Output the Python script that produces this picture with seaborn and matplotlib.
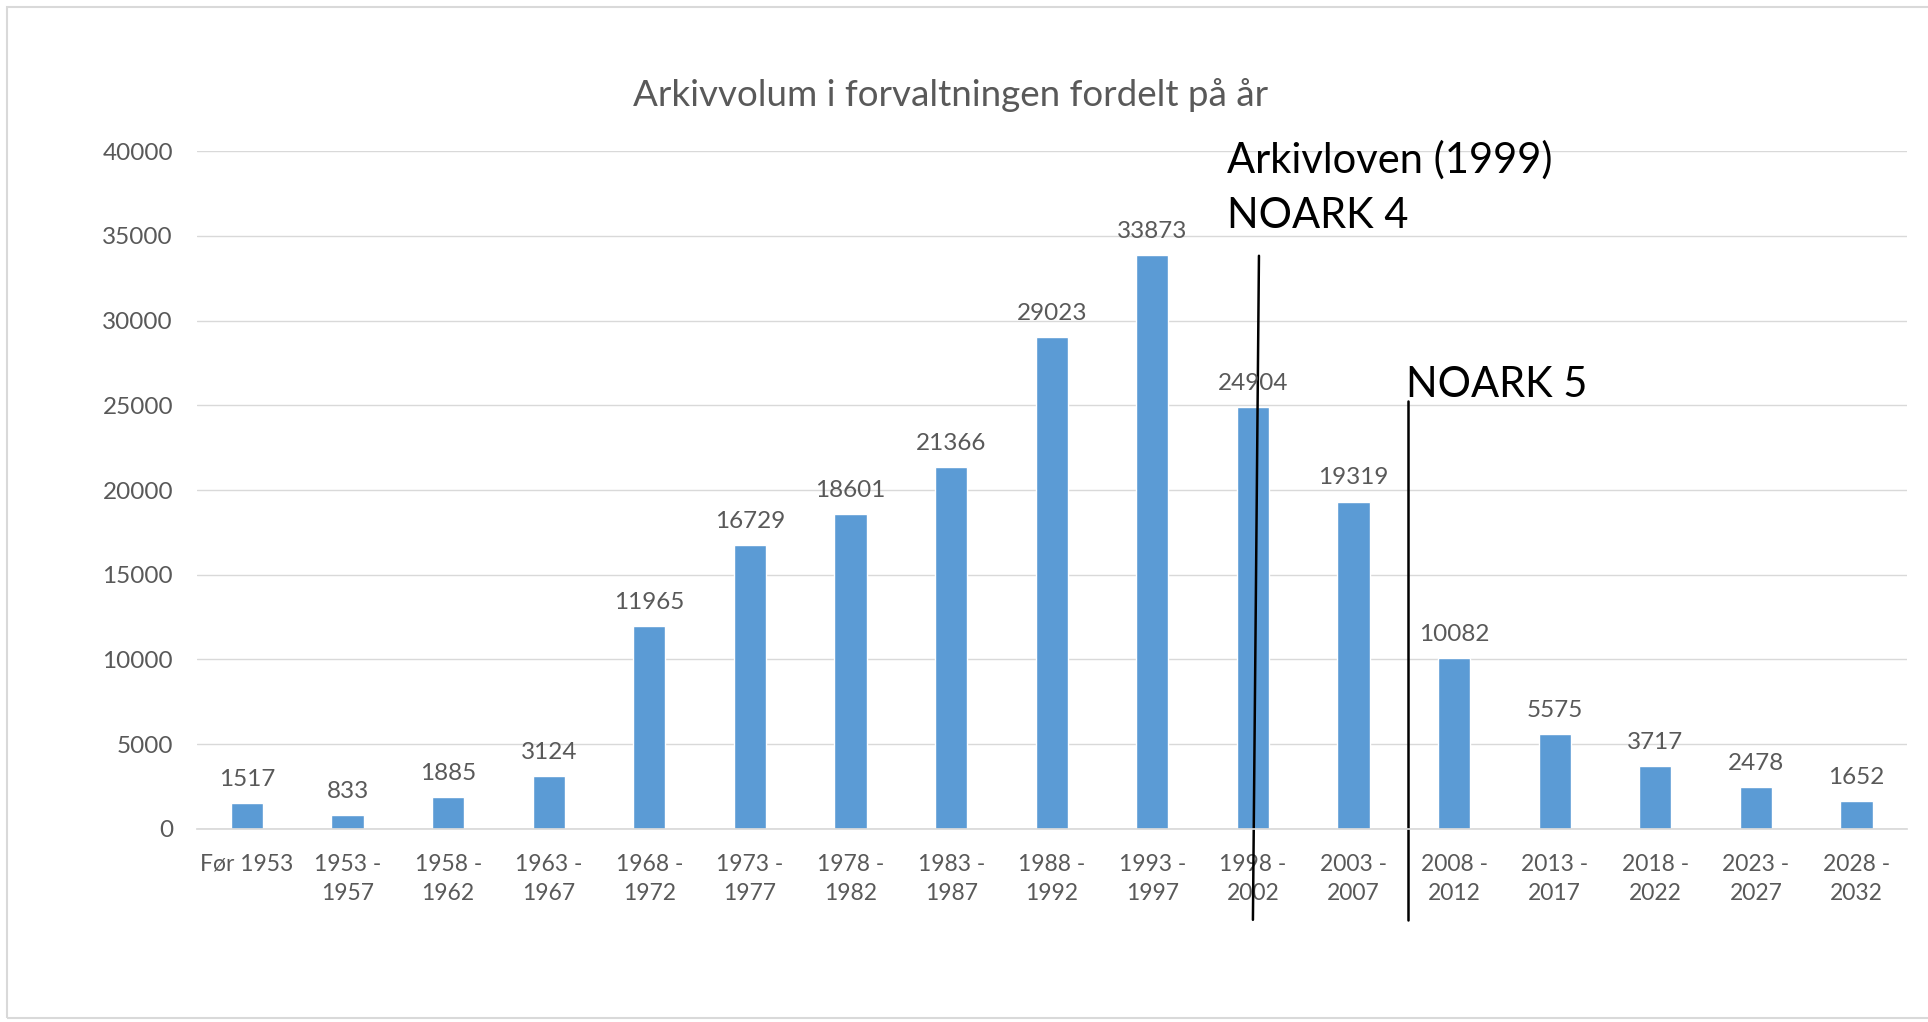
import matplotlib
matplotlib.use("Agg")
import matplotlib.pyplot as plt
import seaborn as sns
import pandas as pd
from matplotlib.patches import Rectangle

periods = ["Før 1953", "1953 -\n1957", "1958 -\n1962", "1963 -\n1967", "1968 -\n1972",
           "1973 -\n1977", "1978 -\n1982", "1983 -\n1987", "1988 -\n1992", "1993 -\n1997",
           "1998 -\n2002", "2003 -\n2007", "2008 -\n2012", "2013 -\n2017", "2018 -\n2022",
           "2023 -\n2027", "2028 -\n2032"]
volumes = [1517, 833, 1885, 3124, 11965, 16729, 18601, 21366, 29023, 33873,
           24904, 19319, 10082, 5575, 3717, 2478, 1652]
y_ticks = [0, 5000, 10000, 15000, 20000, 25000, 30000, 35000, 40000]

title = "Arkivvolum i forvaltningen fordelt på år"
note_law = "Arkivloven (1999)"
note_n4 = "NOARK 4"
note_n5 = "NOARK 5"

sns.set_theme(style="white")
plt.rcParams['font.family'] = ['Lato', 'DejaVu Sans']

gray_text = "#595959"
grid_col = "#D9D9D9"
bar_col = "#5B9BD5"

df = pd.DataFrame({"period": periods, "volume": volumes})

fig = plt.figure(figsize=(19.28, 10.22), dpi=100)
ax = fig.add_axes([0.102, 0.189, 0.887, 0.663])

sns.barplot(data=df, x="period", y="volume", color=bar_col, saturation=1,
            width=0.32, ax=ax)

ax.set_ylim(0, 40000)
ax.set_xlim(-0.5, len(periods) - 0.5)
ax.set_yticks(y_ticks)
ax.set_yticklabels([str(t) for t in y_ticks])
ax.yaxis.grid(True, color=grid_col, lw=1)
ax.set_axisbelow(True)
for s in ["top", "right", "left"]:
    ax.spines[s].set_visible(False)
ax.spines["bottom"].set_color(grid_col)
ax.tick_params(axis="y", length=0, colors=gray_text, labelsize=17.5, pad=17)
ax.tick_params(axis="x", length=0, colors=gray_text, labelsize=16.5, pad=18)
for lbl in ax.get_xticklabels():
    lbl.set_linespacing(1.5)
ax.set_xlabel("")
ax.set_ylabel("")

ax.bar_label(ax.containers[0], labels=[str(v) for v in volumes], padding=9.5,
             color=gray_text, fontsize=17.5)

fig.text(0.493, 0.907, title, ha="center", va="center", fontsize=26.5, color=gray_text)

# annotations for the archive law / NOARK versions
ax.plot([10.06, 10.0], [33830, -5370], color="black", lw=1.8, clip_on=False)
ax.plot([11.54, 11.54], [25260, -5370], color="black", lw=1.8, clip_on=False)
ax.text(9.74, 39490, note_law, ha="left", va="center", fontsize=30, color="black")
ax.text(9.74, 36150, note_n4, ha="left", va="center", fontsize=30, color="black")
ax.text(11.52, 26200, note_n5, ha="left", va="center", fontsize=30, color="black")

# outer chart frame
fig.patches.append(Rectangle((7 / 1928, 4 / 1022), 1.0, 1 - 11 / 1022,
                             transform=fig.transFigure, fill=False,
                             edgecolor=grid_col, lw=1.5))

fig.savefig("out.png", dpi=100)
